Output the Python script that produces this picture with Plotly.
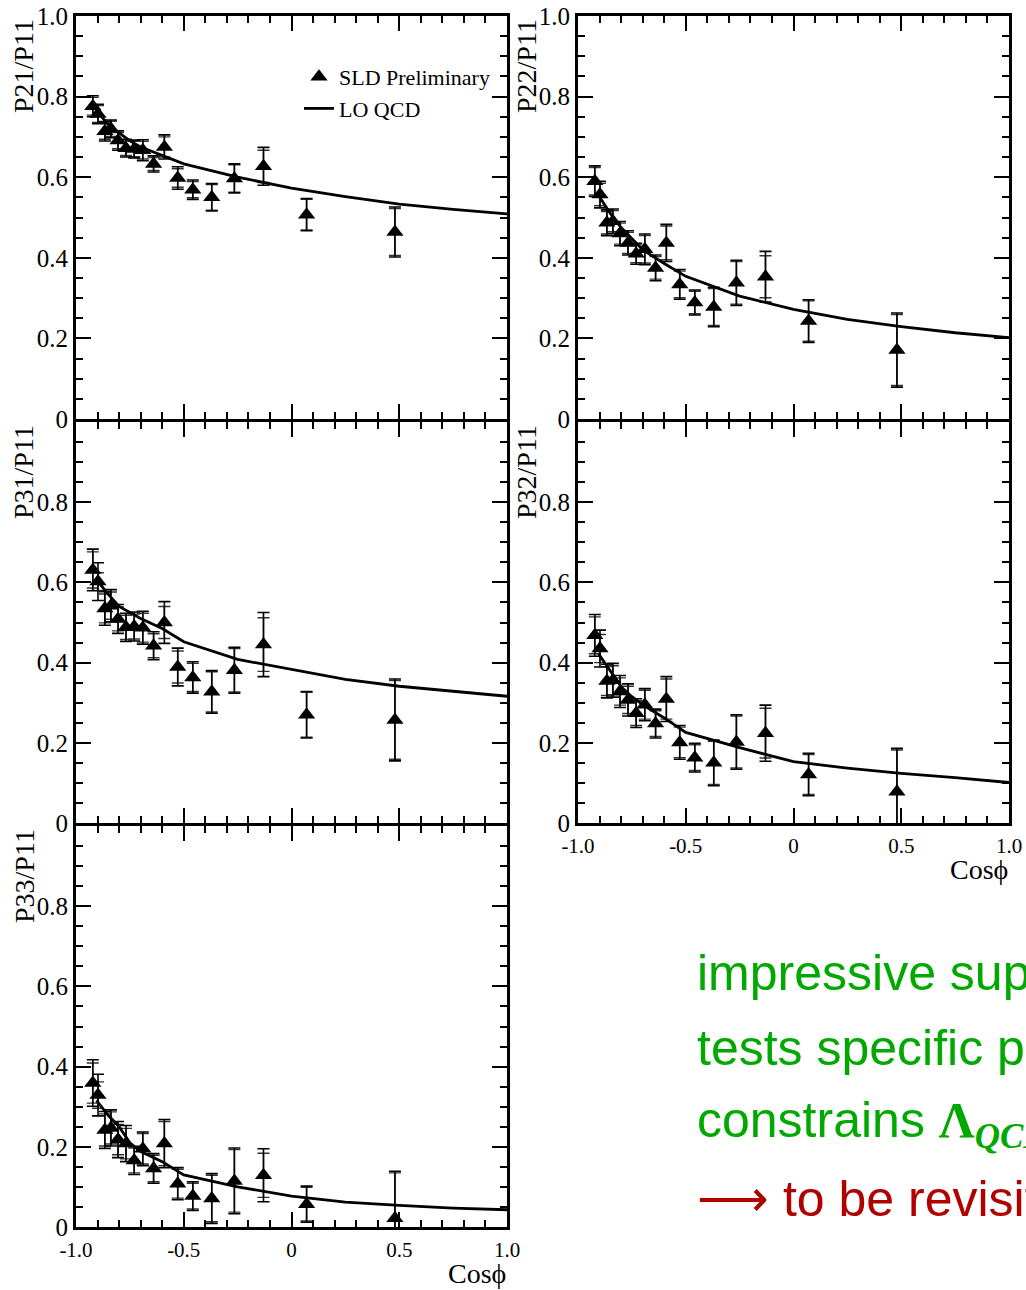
import plotly.graph_objects as go

# ---------------------------------------------------------------------------
# Data: ratios of jet-energy moments vs. cos(phi), SLD preliminary
# ---------------------------------------------------------------------------
cos_phi = [-0.922, -0.898, -0.866, -0.838, -0.805, -0.768, -0.730, -0.690, -0.640,
           -0.590, -0.528, -0.458, -0.370, -0.265, -0.130, 0.070, 0.480]

p21 = [0.776, 0.757, 0.714, 0.720, 0.691, 0.672, 0.670, 0.667, 0.633,
       0.675, 0.598, 0.569, 0.550, 0.597, 0.627, 0.507, 0.464]
p21_err = [0.026, 0.024, 0.024, 0.022, 0.024, 0.022, 0.022, 0.026, 0.020,
           0.030, 0.028, 0.024, 0.034, 0.036, 0.047, 0.040, 0.062]
p21_stat = [0.022, 0.021, 0.020, 0.019, 0.020, 0.018, 0.019, 0.022, 0.016,
            0.025, 0.023, 0.020, 0.032, 0.034, 0.040, 0.038, 0.058]

p22 = [0.590, 0.557, 0.487, 0.491, 0.460, 0.437, 0.410, 0.421, 0.375,
       0.437, 0.334, 0.289, 0.278, 0.338, 0.353, 0.243, 0.171]
p22_err = [0.038, 0.033, 0.032, 0.030, 0.030, 0.030, 0.026, 0.038, 0.032,
           0.046, 0.037, 0.031, 0.049, 0.056, 0.063, 0.053, 0.092]
p22_stat = [0.034, 0.028, 0.028, 0.026, 0.026, 0.026, 0.022, 0.034, 0.028,
            0.042, 0.033, 0.028, 0.046, 0.053, 0.052, 0.050, 0.088]

p31 = [0.631, 0.602, 0.535, 0.542, 0.509, 0.488, 0.490, 0.487, 0.442,
       0.500, 0.389, 0.363, 0.327, 0.381, 0.445, 0.270, 0.257]
p31_err = [0.052, 0.047, 0.042, 0.040, 0.036, 0.035, 0.036, 0.041, 0.035,
           0.052, 0.047, 0.039, 0.053, 0.057, 0.080, 0.058, 0.102]
p31_stat = [0.045, 0.022, 0.036, 0.034, 0.030, 0.030, 0.031, 0.036, 0.030,
            0.040, 0.040, 0.035, 0.050, 0.054, 0.067, 0.056, 0.098]

p32 = [0.468, 0.435, 0.354, 0.356, 0.328, 0.307, 0.274, 0.295, 0.248,
       0.309, 0.201, 0.163, 0.150, 0.202, 0.224, 0.121, 0.078]
p32_err = [0.052, 0.046, 0.042, 0.042, 0.040, 0.040, 0.036, 0.040, 0.036,
           0.056, 0.042, 0.036, 0.057, 0.068, 0.070, 0.053, 0.108]
p32_stat = [0.046, 0.035, 0.036, 0.036, 0.034, 0.034, 0.031, 0.036, 0.032,
            0.050, 0.038, 0.032, 0.054, 0.065, 0.062, 0.050, 0.104]

p33 = [0.359, 0.329, 0.242, 0.247, 0.218, 0.208, 0.166, 0.195, 0.146,
       0.208, 0.108, 0.077, 0.071, 0.115, 0.129, 0.057, 0.022]
p33_err = [0.058, 0.052, 0.046, 0.045, 0.045, 0.045, 0.035, 0.042, 0.037,
           0.060, 0.040, 0.036, 0.062, 0.082, 0.066, 0.045, 0.117]
p33_stat = [0.050, 0.033, 0.040, 0.040, 0.038, 0.038, 0.031, 0.038, 0.033,
            0.055, 0.036, 0.032, 0.058, 0.078, 0.055, 0.042, 0.113]

# Leading-order QCD prediction
qcd_cos = [-0.905, -0.85, -0.80, -0.75, -0.70, -0.60, -0.50, -0.25, 0.0, 0.25, 0.5, 0.75, 1.0]
qcd_p21 = [0.765, 0.730, 0.710, 0.690, 0.675, 0.653, 0.633, 0.600, 0.573, 0.552, 0.533, 0.520, 0.509]
qcd_p22 = [0.555, 0.510, 0.475, 0.447, 0.420, 0.386, 0.354, 0.305, 0.272, 0.247, 0.229, 0.214, 0.202]
qcd_p31 = [0.607, 0.570, 0.540, 0.525, 0.510, 0.485, 0.452, 0.408, 0.383, 0.358, 0.341, 0.328, 0.316]
qcd_p32 = [0.422, 0.380, 0.340, 0.315, 0.295, 0.262, 0.226, 0.188, 0.153, 0.137, 0.124, 0.113, 0.101]
qcd_p33 = [0.316, 0.278, 0.250, 0.210, 0.188, 0.163, 0.130, 0.100, 0.077, 0.062, 0.054, 0.047, 0.043]

y_tick_vals = [0, 0.2, 0.4, 0.6, 0.8, 1.0]
y_tick_text = ["0", "0.2", "0.4", "0.6", "0.8", "1.0"]
x_tick_vals = [-1.0, -0.5, 0, 0.5, 1.0]
x_tick_text = ["-1.0", "-0.5", "0", "0.5", "1.0"]

# ---------------------------------------------------------------------------
# Layout geometry (pixels in a 1026 x 1290 page). Rows touch so that the
# frame lines of stacked panels coincide.
# ---------------------------------------------------------------------------
W, H = 1026, 1290
LEFT_COL = (76, 507)
RIGHT_COL = (578, 1009)
ROWS = [(16, 419), (422, 823), (826, 1227)]


def xdom(col):
    return [col[0] / W, col[1] / W]


def ydom(row):
    return [1 - row[1] / H, 1 - row[0] / H]


panels = [
    dict(title="P21/P11", y=p21, err=p21_err, stat=p21_stat, qcd=qcd_p21,
         col=LEFT_COL, row=ROWS[0], xlabels=False, toplabel=True),
    dict(title="P22/P11", y=p22, err=p22_err, stat=p22_stat, qcd=qcd_p22,
         col=RIGHT_COL, row=ROWS[0], xlabels=False, toplabel=True),
    dict(title="P31/P11", y=p31, err=p31_err, stat=p31_stat, qcd=qcd_p31,
         col=LEFT_COL, row=ROWS[1], xlabels=False, toplabel=False),
    dict(title="P32/P11", y=p32, err=p32_err, stat=p32_stat, qcd=qcd_p32,
         col=RIGHT_COL, row=ROWS[1], xlabels=True, toplabel=False),
    dict(title="P33/P11", y=p33, err=p33_err, stat=p33_stat, qcd=qcd_p33,
         col=LEFT_COL, row=ROWS[2], xlabels=True, toplabel=False),
]

SERIF = "Liberation Serif"
INK = "black"

fig = go.Figure()
layout = dict(
    width=W, height=H,
    margin=dict(l=0, r=0, t=0, b=0, autoexpand=False),
    paper_bgcolor="white", plot_bgcolor="white",
    showlegend=True,
    legend=dict(x=299 / W, y=1 - 56 / H, xanchor="left", yanchor="top",
                font=dict(family=SERIF, size=22, color=INK),
                bgcolor="rgba(0,0,0,0)", borderwidth=0, tracegroupgap=0,
                itemwidth=30),
)
annotations = []

for i, p in enumerate(panels, start=1):
    xa = "x" if i == 1 else f"x{i}"
    ya = "y" if i == 1 else f"y{i}"
    first = i == 1

    # inner (statistical) error caps
    fig.add_trace(go.Scatter(
        x=cos_phi, y=p["y"], xaxis=xa, yaxis=ya, mode="markers",
        marker=dict(size=1, color="rgba(0,0,0,0)"),
        error_y=dict(type="data", array=p["stat"], visible=True,
                     color="#333333", thickness=1.4, width=6),
        showlegend=False, hoverinfo="skip"))

    # LO QCD curve
    fig.add_trace(go.Scatter(
        x=qcd_cos, y=p["qcd"], xaxis=xa, yaxis=ya, mode="lines",
        line=dict(color=INK, width=2.8), name="LO QCD",
        showlegend=first, legendrank=2))

    # measured points with total errors
    fig.add_trace(go.Scatter(
        x=cos_phi, y=p["y"], xaxis=xa, yaxis=ya, mode="markers",
        marker=dict(symbol="triangle-up", size=15, color=INK,
                    line=dict(width=0)),
        error_y=dict(type="data", array=p["err"], visible=True,
                     color=INK, thickness=1.6, width=6),
        name="SLD Preliminary", showlegend=first, legendrank=1))

    yv = y_tick_vals if p["toplabel"] else y_tick_vals[:5]
    yt = y_tick_text if p["toplabel"] else y_tick_text[:5]

    axis_common = dict(
        ticks="inside", tickwidth=1.6, tickcolor=INK,
        showline=True, linewidth=3, linecolor=INK, mirror="allticks",
        showgrid=False, zeroline=False, automargin=False,
    )
    layout["xaxis" if i == 1 else f"xaxis{i}"] = dict(
        axis_common, domain=xdom(p["col"]), anchor=ya, range=[-1, 1],
        tickmode="array", tickvals=x_tick_vals, ticktext=x_tick_text,
        ticklen=15, showticklabels=p["xlabels"], ticklabelstandoff=2,
        tickfont=dict(family=SERIF, size=21, color=INK),
        minor=dict(ticks="inside", ticklen=7, tickwidth=1.6, tickcolor=INK,
                   tickmode="linear", tick0=-1, dtick=0.1, showgrid=False),
    )
    layout["yaxis" if i == 1 else f"yaxis{i}"] = dict(
        axis_common, domain=ydom(p["row"]), anchor=xa, range=[0, 1],
        tickmode="array", tickvals=yv, ticktext=yt, ticklen=15,
        tickfont=dict(family=SERIF, size=25, color=INK),
        minor=dict(ticks="inside", ticklen=7, tickwidth=1.6, tickcolor=INK,
                   tickmode="linear", tick0=0, dtick=0.05, showgrid=False),
    )

    # rotated y title at the top of each panel
    title_x = 24 if p["col"] == LEFT_COL else 527
    annotations.append(dict(
        text=p["title"], textangle=-90, xref="paper", yref="paper",
        x=title_x / W, y=1 - (p["row"][0] + 1) / H,
        xanchor="center", yanchor="top", showarrow=False,
        font=dict(family=SERIF, size=28, color=INK)))

    if p["xlabels"]:
        annotations.append(dict(
            text="Cosϕ", xref="paper", yref="paper",
            x=(p["col"][1] + 1) / W, y=1 - (p["row"][1] + 46) / H,
            xanchor="right", yanchor="middle", showarrow=False,
            font=dict(family=SERIF, size=28, color=INK)))

# Summary remarks
GREEN = "#00A800"
RED = "#B00000"
SANS = "Liberation Sans"
remarks = [
    ("impressive support", GREEN, 990),
    ("tests specific predictions", GREEN, 1065),
    ("constrains <span style='font-family:Liberation Serif'><b>Λ</b></span>"
     "<sub><span style='font-family:Liberation Serif'><b><i>QCD</i></b></span></sub>",
     GREEN, 1141),
    ("⟶ to be revisited", RED, 1216),
]
for text, color, baseline in remarks:
    annotations.append(dict(
        text=text, xref="paper", yref="paper",
        x=695 / W, y=1 - (baseline - 17) / H,
        xanchor="left", yanchor="middle", showarrow=False,
        font=dict(family=SANS, size=50, color=color)))

layout["annotations"] = annotations
fig.update_layout(**layout)

fig.write_html("out.html")
